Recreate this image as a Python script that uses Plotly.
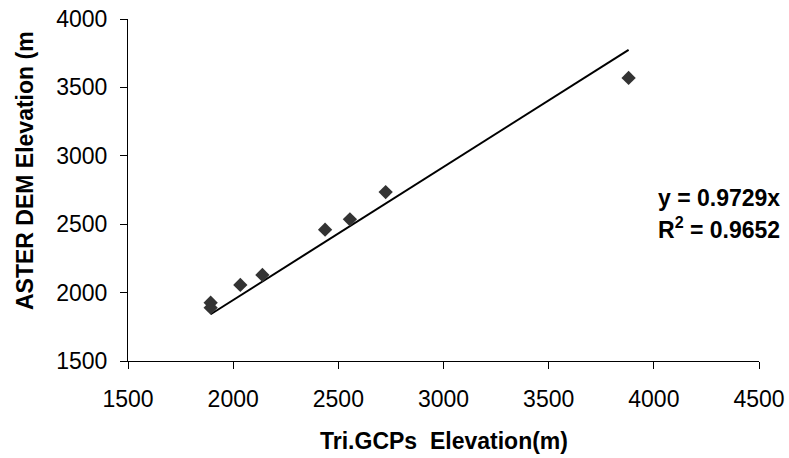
import plotly.graph_objects as go

# Data
gcp_elev = [1893, 1893, 2034, 2139, 2437, 2555, 2725, 3880]
aster_elev = [1926, 1890, 2056, 2129, 2460, 2536, 2735, 3569]
slope = 0.9729
r2 = 0.9652
x_ticks = [1500, 2000, 2500, 3000, 3500, 4000, 4500]
y_ticks = [1500, 2000, 2500, 3000, 3500, 4000]

FONT = "Liberation Sans, Arial, Helvetica, sans-serif"

fit_x = [min(gcp_elev), max(gcp_elev)]
fit_y = [slope * v for v in fit_x]

fig = go.Figure()
fig.add_trace(go.Scatter(
    x=fit_x, y=fit_y, mode="lines",
    line=dict(color="black", width=2), showlegend=False, hoverinfo="skip"))
fig.add_trace(go.Scatter(
    x=gcp_elev, y=aster_elev, mode="markers",
    marker=dict(symbol="diamond", size=11, color="#333333"),
    showlegend=False))

fig.update_layout(
    template="none",
    width=789, height=458,
    margin=dict(l=128, r=30, t=19, b=97, autoexpand=False),
    plot_bgcolor="white", paper_bgcolor="white",
    font=dict(family=FONT, size=23, color="black"),
    xaxis=dict(range=[1500, 4500], tickvals=x_ticks, ticks="outside", ticklen=7,
               tickcolor="black", showline=True, linecolor="black", linewidth=1,
               showgrid=False, zeroline=False, automargin=False,
               ticklabelstandoff=10,
               tickfont=dict(size=23, color="black")),
    yaxis=dict(range=[1500, 4000], tickvals=y_ticks, ticks="outside", ticklen=7,
               tickcolor="black", showline=True, linecolor="black", linewidth=1,
               showgrid=False, zeroline=False, automargin=False,
               ticklabelstandoff=8,
               tickfont=dict(size=23, color="black")),
    annotations=[
        dict(text="<b>Tri.GCPs  Elevation(m)</b>", xref="paper", yref="paper",
             x=0.5, y=-0.234, xanchor="center", yanchor="middle", showarrow=False,
             font=dict(size=23, color="black")),
        dict(text="<b>ASTER DEM Elevation (m</b>", xref="paper", yref="paper",
             x=-0.163, y=0.556, xanchor="center", yanchor="middle", showarrow=False,
             textangle=-90, font=dict(size=23, color="black")),
        dict(text=f"<b>y = {slope}x</b>", xref="paper", yref="paper",
             x=1.0365, y=0.4766, xanchor="right", yanchor="middle", showarrow=False,
             font=dict(size=23, color="black")),
        dict(text=f"<b>R<sup>2</sup> = {r2}</b>", xref="paper", yref="paper",
             x=1.0365, y=0.389, xanchor="right", yanchor="middle", showarrow=False,
             font=dict(size=23, color="black")),
    ],
)

fig.write_html("out.html")
